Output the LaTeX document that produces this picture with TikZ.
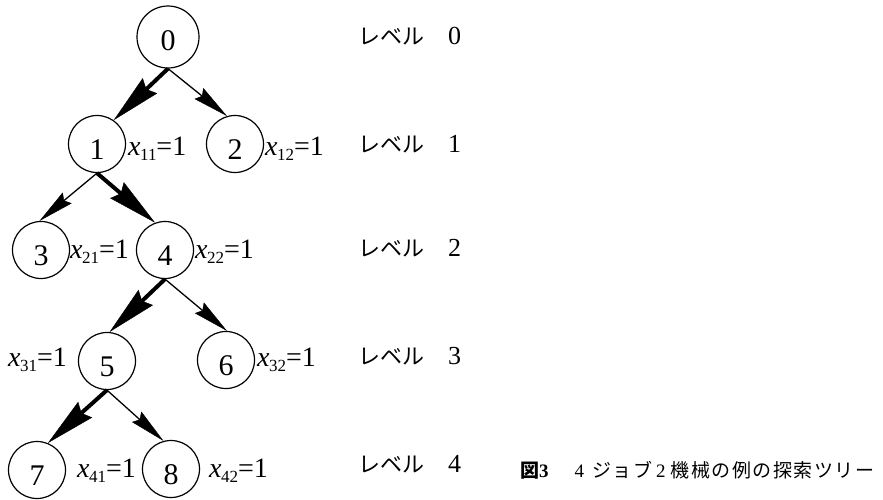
\documentclass[tikz,border=0pt]{standalone}
\usepackage{fontspec}
\setmainfont{Liberation Serif}
\newfontfamily\jp{Noto Sans CJK JP}
\newfontfamily\jpcap{Noto Sans CJK JP}[LetterSpace=8]
\usetikzlibrary{arrows.meta}

% decision variable label: x_{ij}=1
\newcommand\xlab[1]{\textit{x}\kern-0.5pt\raisebox{-5pt}{\fontsize{17}{17}\selectfont #1}=1}
% level label: katakana word followed by the level number
\newcommand\lvtext[1]{\makebox[90pt][l]{{\jp\fontsize{22}{22}\selectfont レベル}}#1}

\begin{document}
\begin{tikzpicture}[x=1pt,y=-1pt,
  vert/.style={circle,draw,line width=1.2pt,minimum size=57pt,inner sep=0pt,
               text height=31pt,text depth=0pt,font=\fontsize{30}{30}\selectfont},
  rootvert/.style={vert,minimum size=62pt,text height=26pt},
  plainarc/.style={line width=1.3pt,-{Stealth[length=36pt,width=14pt,inset=4pt,line width=0.4pt]}},
  boldarc/.style={line width=4pt,-{Stealth[length=50pt,width=21pt,inset=5pt,line width=0.4pt]}},
  xl/.style={anchor=base west,inner sep=0pt,font=\fontsize{28}{28}\selectfont},
  lvl/.style={anchor=base west,inner sep=0pt,font=\fontsize{26}{26}\selectfont}]
\useasboundingbox (0,0) rectangle (883,499);

% search tree nodes
\node[rootvert] (n0) at (168,37) {0};
\node[vert] (n1) at (97,144) {1};
\node[vert] (n2) at (235,144) {2};
\node[vert] (n3) at (41,250) {3};
\node[vert] (n4) at (165,250) {4};
\node[vert] (n5) at (107,361) {5};
\node[vert] (n6) at (226,360) {6};
\node[vert] (n7) at (37,470) {7};
\node[vert] (n8) at (171,469) {8};

% branches (bold = chosen path)
\draw[boldarc]  (n0.south) -- (n1.55);
\draw[plainarc] (n0.south) -- (n2.106);
\draw[plainarc] (n1.south) -- (n3.93);
\draw[boldarc]  (n1.south) -- (n4.110);
\draw[boldarc]  (n4.south) -- (n5.85);
\draw[plainarc] (n4.south) -- (n6.88);
\draw[boldarc]  (n5.south) -- (n7.68);
\draw[plainarc] (n5.south) -- (n8.105);

% variable labels
\node[xl] (l11) at (128,155) {\xlab{11}};
\node[xl] (l12) at (265,155) {\xlab{12}};
\node[xl] (l21) at (70,258) {\xlab{21}};
\node[xl] (l22) at (195,258) {\xlab{22}};
\node[xl] (l31) at (8,366) {\xlab{31}};
\node[xl] (l32) at (257,366) {\xlab{32}};
\node[xl] (l41) at (77,477) {\xlab{41}};
\node[xl] (l42) at (209,477) {\xlab{42}};

% level labels
\node[lvl] (v0) at (358,44) {\lvtext{0}};
\node[lvl] (v1) at (358,152) {\lvtext{1}};
\node[lvl] (v2) at (358,256) {\lvtext{2}};
\node[lvl] (v3) at (358,364) {\lvtext{3}};
\node[lvl] (v4) at (358,472) {\lvtext{4}};

% caption
\node[anchor=base west,inner sep=0pt,font=\fontsize{19}{19}\selectfont] (cap) at (520,477)
  {\textbf{{\jpcap 図}3}\hspace{26pt}4\hspace{8pt}{\jpcap ジョブ}\hspace{4pt}2\hspace{5pt}{\jpcap 機械の例の探索ツリー}};
\end{tikzpicture}
\end{document}
